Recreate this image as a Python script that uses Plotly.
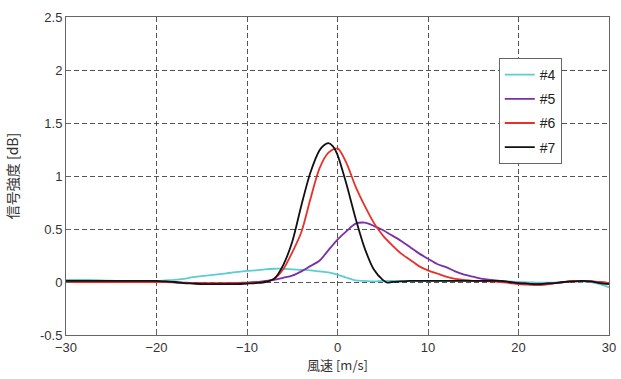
import plotly.graph_objects as go

x_grid = list(range(-30, 31))

# #4 (cyan)
x4 = x_grid
y4 = [0.02, 0.02, 0.02, 0.018, 0.015, 0.012, 0.01, 0.01, 0.01, 0.01,
      0.01, 0.015, 0.02, 0.03, 0.045, 0.055, 0.065, 0.075, 0.085, 0.095,
      0.105, 0.11, 0.12, 0.125, 0.125, 0.12, 0.115, 0.11, 0.1, 0.09,
      0.07, 0.04, 0.015, 0.01, 0.005, 0.01, 0.01, 0.01, 0.01, 0.01,
      0.01, 0.01, 0.01, 0.01, 0.01, 0.01, 0.01, 0.01, 0.01, 0.005,
      0.0, -0.003, -0.005, -0.005, -0.005, 0.0, 0.005, 0.003, 0.0, -0.02,
      -0.05]

# #5 (purple)
x5 = x_grid
y5 = [0.005, 0.005, 0.005, 0.005, 0.005, 0.005, 0.005, 0.005, 0.005, 0.005,
      0.005, 0.003, 0.0, -0.005, -0.01, -0.012, -0.015, -0.015, -0.01, -0.008,
      -0.005, 0.0, 0.01, 0.02, 0.04, 0.06, 0.1, 0.15, 0.2, 0.3,
      0.4, 0.48, 0.55, 0.56, 0.53, 0.49, 0.44, 0.39, 0.33, 0.27,
      0.22, 0.17, 0.14, 0.10, 0.07, 0.05, 0.03, 0.02, 0.01, 0.0,
      -0.01, -0.015, -0.02, -0.015, -0.01, 0.0, 0.01, 0.01, 0.005, 0.0,
      -0.01]

# #6 (red)
x6 = x_grid
y6 = [0.0, 0.0, 0.0, 0.0, 0.0, 0.0, 0.0, 0.0, 0.0, 0.0,
      0.0, 0.0, -0.005, -0.01, -0.01, -0.01, -0.01, -0.01, -0.01, -0.01,
      -0.01, -0.005, 0.0, 0.03, 0.12, 0.28, 0.47, 0.78, 1.07, 1.22,
      1.26, 1.12, 0.9, 0.72, 0.56, 0.44, 0.35, 0.27, 0.21, 0.15,
      0.11, 0.08, 0.05, 0.03, 0.02, 0.01, 0.01, 0.005, 0.0, -0.01,
      -0.02, -0.025, -0.03, -0.025, -0.01, 0.0, 0.01, 0.01, 0.005, 0.0,
      -0.01]

# #7 (black)
x7 = [-30, -29, -28, -27, -26, -25, -24, -23, -22, -21,
      -20, -19, -18, -17, -16, -15, -14, -13, -12, -11,
      -10, -9, -8, -7, -6, -5, -4, -3, -2, -1.5, -1, -0.5,
      0, 1, 2, 3, 4, 5, 5.5, 6, 7, 8, 9,
      10, 11, 12, 13, 14, 15, 16, 17, 18, 19,
      20, 21, 22, 23, 24, 25, 26, 27, 28, 29, 30]
y7 = [0.01, 0.01, 0.01, 0.01, 0.01, 0.01, 0.01, 0.01, 0.01, 0.01,
      0.01, 0.005, 0.0, -0.01, -0.015, -0.02, -0.02, -0.02, -0.02, -0.02,
      -0.015, -0.01, 0.0, 0.03, 0.16, 0.38, 0.72, 1.03, 1.24, 1.29, 1.31, 1.28,
      1.2, 0.92, 0.6, 0.32, 0.12, 0.02, -0.005, 0.0, 0.005, 0.01, 0.01,
      0.01, 0.01, 0.01, 0.01, 0.01, 0.01, 0.01, 0.01, 0.01, 0.0,
      -0.01, -0.015, -0.02, -0.015, -0.01, 0.0, 0.005, 0.01, 0.005, -0.01, -0.02]

names = ["#4", "#5", "#6", "#7"]
colors = ["#5ccdd0", "#7a2fa8", "#e8302a", "#111111"]
xs = [x4, x5, x6, x7]
ys = [y4, y5, y6, y7]

x_ticks = [-30, -20, -10, 0, 10, 20, 30]
y_ticks = [-0.5, 0, 0.5, 1, 1.5, 2, 2.5]
y_ticklabels = ["-0.5", "0", "0.5", "1", "1.5", "2", "2.5"]

fig = go.Figure()
for n, c, xx, yy in zip(names, colors, xs, ys):
    fig.add_trace(go.Scatter(x=xx, y=yy, mode="lines", name=n, legendgroup=n,
                             line=dict(color=c, width=1.8, shape="spline", smoothing=0.8)))

axis_common = dict(
    showline=True, linecolor="#666666", linewidth=1, mirror=True,
    showgrid=True, gridcolor="#555555", griddash="5px,3px", gridwidth=1.3,
    ticks="inside", ticklen=5, tickcolor="#666666",
    zeroline=False, automargin=False,
    tickfont=dict(family="Liberation Sans, Arial, sans-serif", size=13, color="#333333"),
)

fig.update_xaxes(range=[-30, 30], tickvals=x_ticks, **axis_common,
                 title=dict(text="風速 [m/s]", standoff=2,
                            font=dict(family="Noto Sans CJK JP, sans-serif", size=13, color="#333333")))
fig.update_yaxes(range=[-0.5, 2.5], tickvals=y_ticks, ticktext=y_ticklabels, **axis_common,
                 title=dict(text="信号強度 [dB]", standoff=18,
                            font=dict(family="Noto Sans CJK JP, sans-serif", size=14, color="#333333")))

fig.update_layout(
    width=621, height=379,
    margin=dict(l=66, r=12, t=17, b=44),
    paper_bgcolor="white", plot_bgcolor="white",
    legend=dict(x=0.797, y=0.871, xanchor="left", yanchor="top",
                bgcolor="white", bordercolor="#666666", borderwidth=1,
                tracegroupgap=3,
                font=dict(family="Liberation Sans, Arial, sans-serif", size=14, color="#222222")),
    showlegend=True,
)

fig.write_html("out.html", post_script="document.body.style.margin='0';",
               config={"displayModeBar": False})
